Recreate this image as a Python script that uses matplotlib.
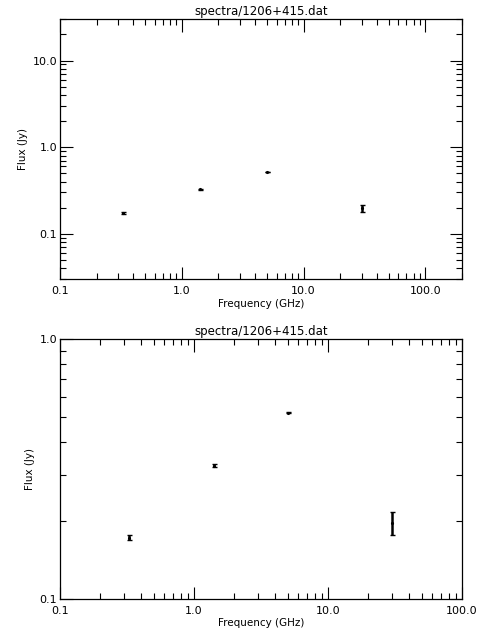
"""
Spectrum plot for 1206+415 (two panels, log-log)
"""
import matplotlib
matplotlib.use('Agg')
import matplotlib.pyplot as plt
from matplotlib.ticker import FixedLocator, FixedFormatter, LogLocator, NullFormatter

title = 'spectra/1206+415.dat'
freq = [0.33, 1.4, 5.0, 30.0]          # GHz
flux = [0.172, 0.326, 0.52, 0.196]     # Jy
flux_err = [0.004, 0.005, 0.002, 0.02]

top_xticks = [0.1, 1.0, 10.0, 100.0]
top_xlabels = ['0.1', '1.0', '10.0', '100.0']
top_yticks = [0.1, 1.0, 10.0]
top_ylabels = ['0.1', '1.0', '10.0']
bot_yticks = [0.1, 1.0]
bot_ylabels = ['0.1', '1.0']

plt.rcParams['font.family'] = 'DejaVu Sans'
plt.rcParams['font.size'] = 8

fig = plt.figure(figsize=(4.8, 6.4), dpi=100)
ax1 = fig.add_axes([0.125, 0.564, 0.8375, 0.406])
ax2 = fig.add_axes([0.125, 0.0645, 0.8375, 0.4055])


def style(ax, xt, xl, yt, yl):
    ax.set_xscale('log')
    ax.set_yscale('log')
    ax.xaxis.set_major_locator(FixedLocator(xt))
    ax.xaxis.set_major_formatter(FixedFormatter(xl))
    ax.yaxis.set_major_locator(FixedLocator(yt))
    ax.yaxis.set_major_formatter(FixedFormatter(yl))
    ax.xaxis.set_minor_locator(LogLocator(base=10, subs=range(2, 10), numticks=20))
    ax.yaxis.set_minor_locator(LogLocator(base=10, subs=range(2, 10), numticks=20))
    ax.xaxis.set_minor_formatter(NullFormatter())
    ax.yaxis.set_minor_formatter(NullFormatter())
    ax.tick_params(which='both', direction='in', top=True, right=True,
                   width=0.8, colors='black', labelsize=8)
    ax.tick_params(axis='x', which='both', pad=5)
    ax.tick_params(axis='y', which='both', pad=2)
    ax.tick_params(which='major', length=9)
    ax.tick_params(which='minor', length=4.5)
    for s in ax.spines.values():
        s.set_linewidth(0.9)
    ax.set_title(title, fontsize=8.5, pad=3)
    ax.set_xlabel('Frequency (GHz)', fontsize=7.5, labelpad=2)
    ax.set_ylabel('Flux (Jy)', fontsize=7.5, labelpad=3)
    ax.errorbar(freq, flux, yerr=flux_err, fmt='.', color='black',
                markersize=2.5, ecolor='black', elinewidth=1.8, capsize=1.8,
                capthick=1.0)


style(ax1, top_xticks, top_xlabels, top_yticks, top_ylabels)
ax1.set_xlim(0.1, 200)
ax1.set_ylim(0.03, 30)

style(ax2, top_xticks, top_xlabels, bot_yticks, bot_ylabels)
ax2.set_xlim(0.1, 100)
ax2.set_ylim(0.1, 1.0)

fig.savefig('out.png', dpi=100)
